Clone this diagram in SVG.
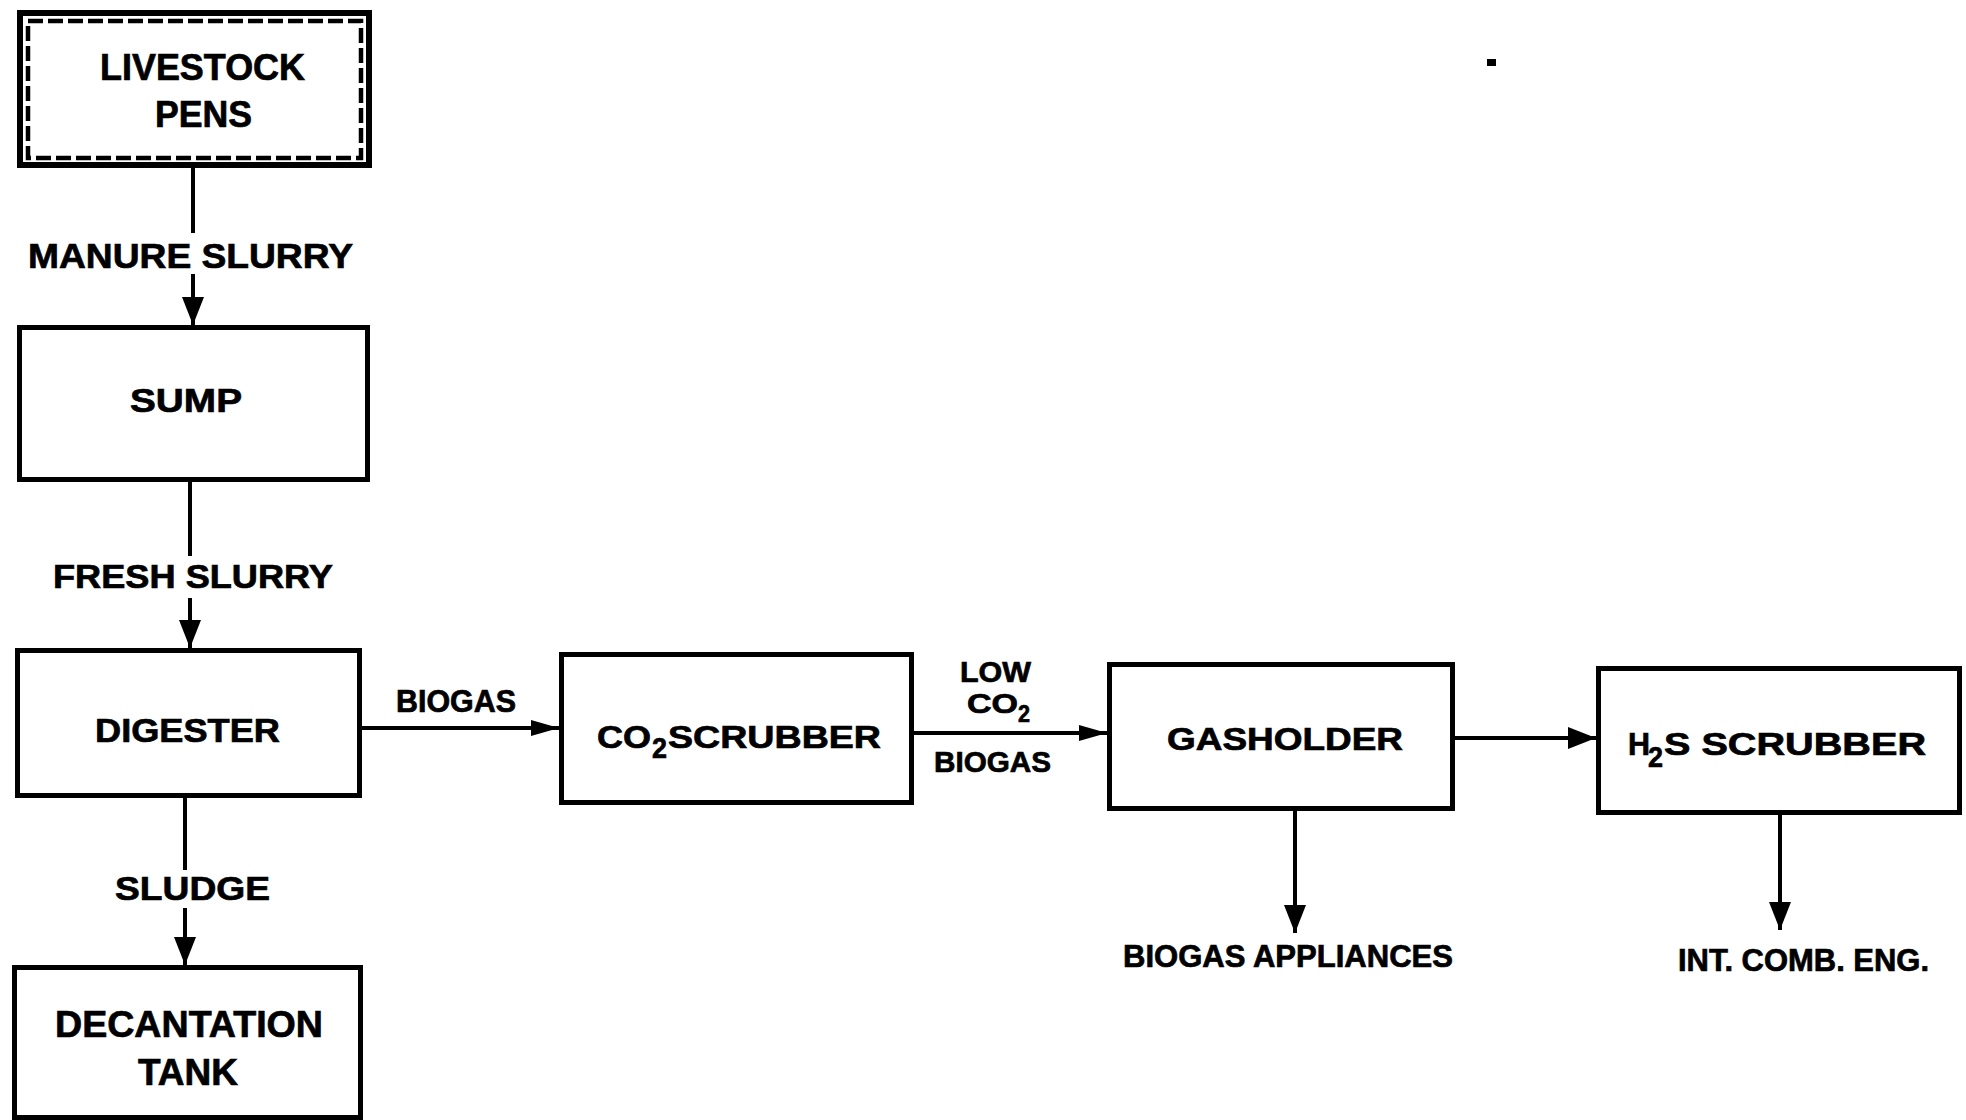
<svg xmlns="http://www.w3.org/2000/svg" width="1966" height="1120" viewBox="0 0 1966 1120">
<style>
.box{fill:#fff;stroke:#000;stroke-width:5}
.t{font-family:"Liberation Sans",Arial,sans-serif;font-weight:bold;fill:#000;stroke:#000;stroke-width:0.7}
.c{stroke:#000;stroke-width:4;fill:none}
</style>
<defs>
<marker id="ah" markerUnits="userSpaceOnUse" markerWidth="30" markerHeight="24" refX="28" refY="11" orient="auto">
<path d="M0,0 L28,11 L0,22 Z" fill="#000"/>
</marker>
<marker id="ahs" markerUnits="userSpaceOnUse" markerWidth="30" markerHeight="18" refX="28" refY="8" orient="auto">
<path d="M0,0 L28,8 L0,16 Z" fill="#000"/>
</marker>
</defs>
<rect width="1966" height="1120" fill="#fff"/>

<g id="livestock">
<rect x="20" y="13" width="349" height="152" fill="#fff" stroke="#000" stroke-width="6"/>
<rect x="28" y="21" width="333" height="137" fill="none" stroke="#000" stroke-width="4.5" stroke-dasharray="15 5"/>
<text class="t" x="100" y="80" font-size="36" textLength="205" lengthAdjust="spacingAndGlyphs">LIVESTOCK</text>
<text class="t" x="155" y="127" font-size="36" textLength="97" lengthAdjust="spacingAndGlyphs">PENS</text>
</g>

<g id="sump">
<rect class="box" x="19.5" y="327.5" width="348" height="152"/>
<text class="t" x="130" y="412" font-size="34" textLength="112" lengthAdjust="spacingAndGlyphs">SUMP</text>
</g>

<g id="digester">
<rect class="box" x="17.5" y="650.5" width="342" height="145"/>
<text class="t" x="95" y="742" font-size="34" textLength="185" lengthAdjust="spacingAndGlyphs">DIGESTER</text>
</g>

<g id="decantation">
<rect class="box" x="14.5" y="967.5" width="346" height="150"/>
<text class="t" x="55" y="1037" font-size="37" textLength="268" lengthAdjust="spacingAndGlyphs">DECANTATION</text>
<text class="t" x="138" y="1085" font-size="37" textLength="100" lengthAdjust="spacingAndGlyphs">TANK</text>
</g>

<g id="co2scrubber">
<rect class="box" x="561.5" y="654.5" width="350" height="148"/>
<text class="t" x="597" y="748" font-size="32" textLength="54" lengthAdjust="spacingAndGlyphs">CO</text>
<text class="t" x="652" y="758" font-size="30" textLength="15" lengthAdjust="spacingAndGlyphs">2</text>
<text class="t" x="668" y="748" font-size="32" textLength="213" lengthAdjust="spacingAndGlyphs">SCRUBBER</text>
</g>

<g id="gasholder">
<rect class="box" x="1109.5" y="664.5" width="343" height="144"/>
<text class="t" x="1167" y="750" font-size="32" textLength="236" lengthAdjust="spacingAndGlyphs">GASHOLDER</text>
</g>

<g id="h2sscrubber">
<rect class="box" x="1598.5" y="668.5" width="361" height="144"/>
<text class="t" x="1628" y="755" font-size="32" textLength="22" lengthAdjust="spacingAndGlyphs">H</text>
<text class="t" x="1648" y="767" font-size="30" textLength="15" lengthAdjust="spacingAndGlyphs">2</text>
<text class="t" x="1664" y="755" font-size="32" textLength="262" lengthAdjust="spacingAndGlyphs">S SCRUBBER</text>
</g>

<g id="biogas-appliances">
<text class="t" x="1123" y="967" font-size="31" textLength="330" lengthAdjust="spacingAndGlyphs">BIOGAS APPLIANCES</text>
</g>

<g id="int-comb-eng">
<text class="t" x="1678" y="971" font-size="31" textLength="251" lengthAdjust="spacingAndGlyphs">INT. COMB. ENG.</text>
</g>

<g id="connectors">
<line class="c" x1="193" y1="168" x2="193" y2="233"/>
<line class="c" x1="193" y1="274" x2="193" y2="325" marker-end="url(#ah)"/>
<text class="t" x="28" y="268" font-size="35" textLength="325" lengthAdjust="spacingAndGlyphs">MANURE SLURRY</text>

<line class="c" x1="190" y1="482" x2="190" y2="556"/>
<line class="c" x1="190" y1="598" x2="190" y2="648" marker-end="url(#ah)"/>
<text class="t" x="53" y="588" font-size="34" textLength="280" lengthAdjust="spacingAndGlyphs">FRESH SLURRY</text>

<line class="c" x1="185" y1="798" x2="185" y2="870"/>
<line class="c" x1="185" y1="908" x2="185" y2="965" marker-end="url(#ah)"/>
<text class="t" x="115" y="900" font-size="34" textLength="155" lengthAdjust="spacingAndGlyphs">SLUDGE</text>

<line class="c" x1="362" y1="728" x2="559" y2="728" stroke-width="3" marker-end="url(#ahs)"/>
<text class="t" x="396" y="712" font-size="31" textLength="120" lengthAdjust="spacingAndGlyphs">BIOGAS</text>

<line class="c" x1="914" y1="733" x2="1107" y2="733" marker-end="url(#ahs)"/>
<text class="t" x="960" y="682" font-size="29" textLength="71" lengthAdjust="spacingAndGlyphs">LOW</text>
<text class="t" x="967" y="713" font-size="27" textLength="51" lengthAdjust="spacingAndGlyphs">CO</text>
<text class="t" x="1018" y="722" font-size="24" textLength="12" lengthAdjust="spacingAndGlyphs">2</text>
<text class="t" x="934" y="772" font-size="29" textLength="117" lengthAdjust="spacingAndGlyphs">BIOGAS</text>

<line class="c" x1="1455" y1="738" x2="1596" y2="738" stroke-width="5" marker-end="url(#ah)"/>

<line class="c" x1="1295" y1="811" x2="1295" y2="933" marker-end="url(#ah)"/>
<line class="c" x1="1780" y1="815" x2="1780" y2="930" marker-end="url(#ah)"/>
</g>
<rect x="1487" y="59" width="9" height="7" fill="#000"/>
</svg>
